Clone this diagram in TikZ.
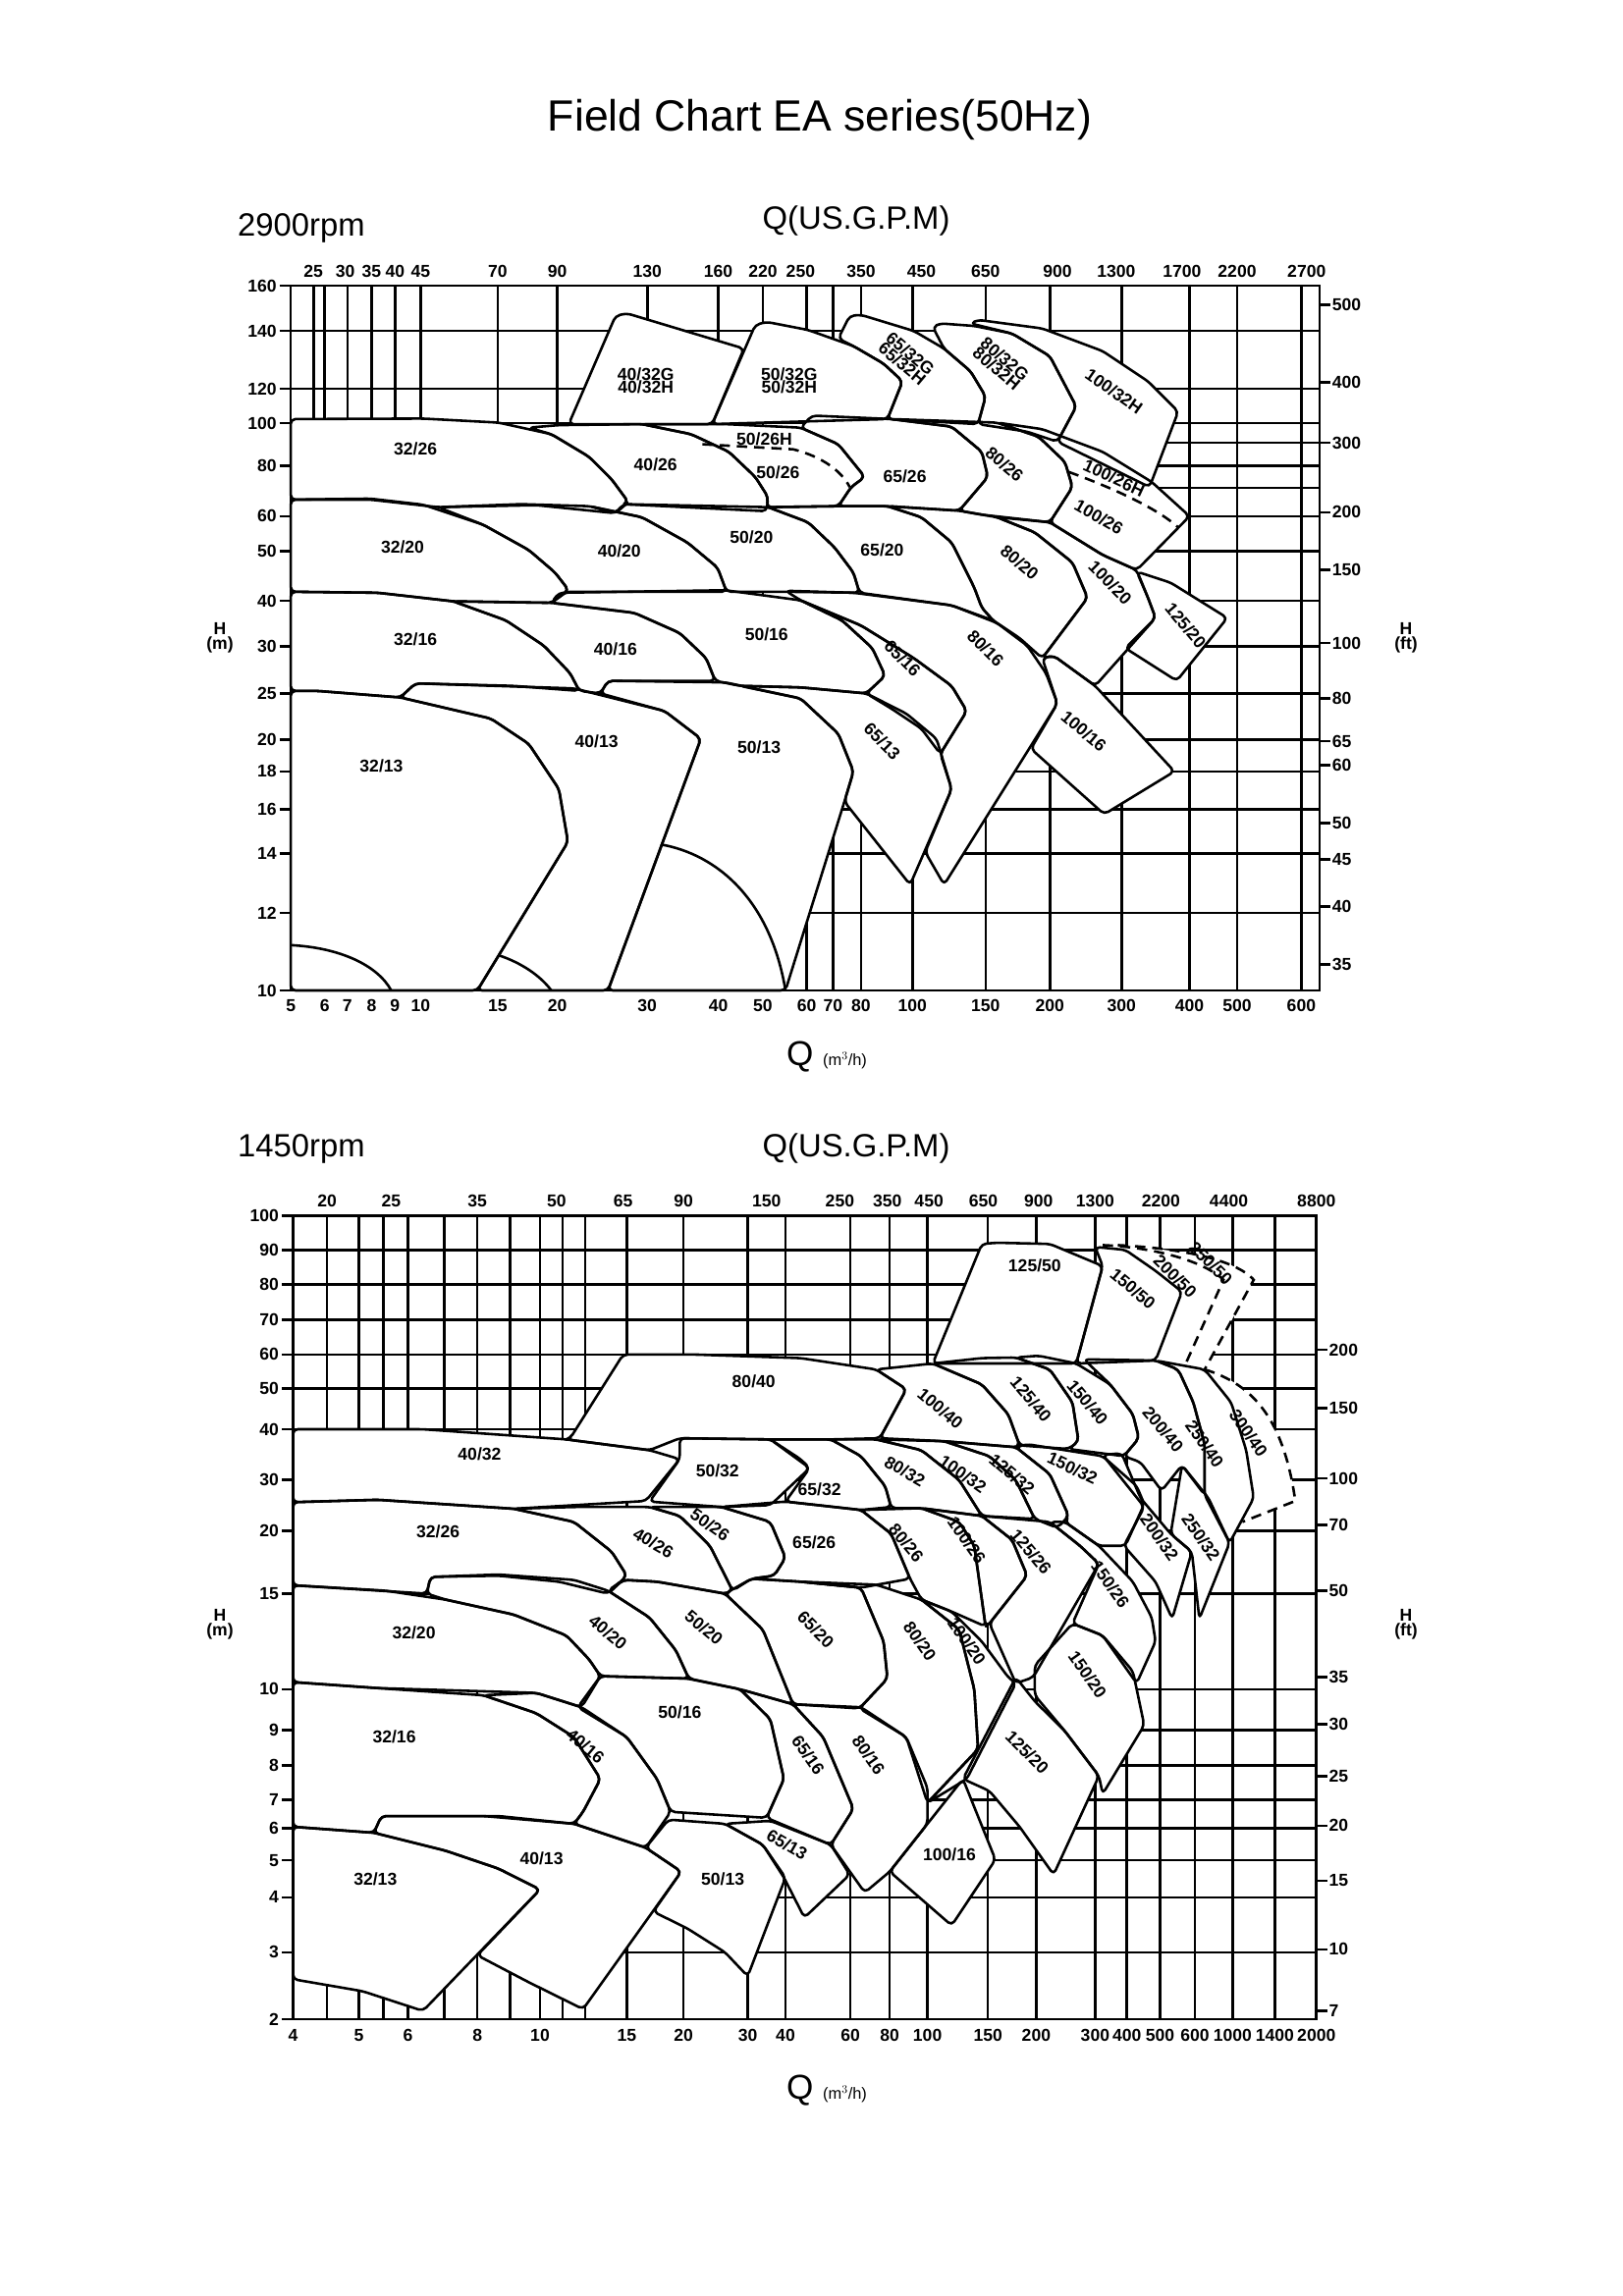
\documentclass[tikz,border=0pt]{standalone}
\usepackage{fontspec}
\setmainfont{Liberation Sans}
\tikzset{
  gridline/.style={line width=2.2pt},
  zone/.style={line width=2.2pt, rounded corners=4pt, line join=round},
  dashzone/.style={line width=2.2pt, dashed, dash pattern=on 9pt off 6pt},
  ticklab/.style={font=\fontsize{15}{16}\selectfont\bfseries, inner sep=1pt},
  zonelab/.style={font=\fontsize{15}{15}\selectfont\bfseries, inner sep=0pt, align=center},
  axislab/.style={font=\fontsize{28}{30}\selectfont}
}
\begin{document}
\begin{tikzpicture}[x=0.3mm,y=-0.3mm]
\useasboundingbox (0,0) rectangle (1653,2339);
\fill[white] (0,0) rectangle (1653,2339);

% headings
\node (title) [font=\fontsize{38}{40}\selectfont] at (835,122) {Field Chart EA series(50Hz)};
\node (rpmA) [axislab, anchor=west] at (238,232) {2900rpm};
\node (usA) [axislab] at (872,225) {Q(US.G.P.M)};
\node (hmA) [ticklab, align=center] at (224,650) {H\\[-3pt](m)};
\node (hfA) [ticklab, align=center] at (1432,650) {H\\[-3pt](ft)};
\node (qA) [font=\fontsize{30}{32}\selectfont] at (842,1077) {Q \fontsize{14}{15}\selectfont(m$^3$/h)};
\node (rpmB) [axislab, anchor=west] at (238,1170) {1450rpm};
\node (usB) [axislab] at (872,1170) {Q(US.G.P.M)};
\node (hmB) [ticklab, align=center] at (224,1655) {H\\[-3pt](m)};
\node (hfB) [ticklab, align=center] at (1432,1655) {H\\[-3pt](ft)};
\node (qB) [font=\fontsize{30}{32}\selectfont] at (842,2130) {Q \fontsize{14}{15}\selectfont(m$^3$/h)};

% ---------------- 2900 rpm ----------------
\begin{scope}[shift={(200,250)},xscale=0.76923,yscale=0.51282]
\foreach \x in {155,170,200,232,263,297,399,478,597,691,750,808,843,880,948,1045,1130,1225,1315,1378,1463}
  \draw[gridline] (\x,80) -- (\x,1480);
\foreach \y in {170,285,353,392,438,482,538,607,706,796,890,982,1045,1120,1208,1326}
  \draw[gridline] (125,\y) -- (1487,\y);
\draw[gridline] (125,80) rectangle (1487,1480);
\foreach \x/\t in {125/5,170/6,200/7,232/8,263/9,297/10,399/15,478/20,597/30,691/40,750/50,808/60,843/70,880/80,948/100,1045/150,1130/200,1225/300,1315/400,1378/500,1463/600}
  \node[ticklab, anchor=north] at (\x,1496) {\t};
\foreach \x/\t in {155/25,197/30,232/35,263/40,297/45,399/70,478/90,597/130,691/160,750/220,800/250,880/350,960/450,1045/650,1140/900,1218/1300,1305/1700,1378/2200,1470/2700}
  \node[ticklab, anchor=south] at (\x,66) {\t};
\foreach \y/\t in {80/160,170/140,285/120,353/100,438/80,538/60,607/50,706/40,796/30,890/25,982/20,1045/18,1120/16,1208/14,1326/12,1480/10}
  {\draw[gridline] (110,\y) -- (125,\y); \node[ticklab, anchor=east] at (108,\y) {\t};}
\foreach \y/\t in {118/500,272/400,392/300,530/200,645/150,790/100,900/80,985/65,1033/60,1148/50,1220/45,1313/40,1428/35}
  {\draw[gridline] (1487,\y) -- (1502,\y); \node[ticklab, anchor=west] at (1502,\y) {\t};}
\def\zonesA{
 {(493,355)--(555,140)--(570,135)--(725,205)--(683,355)--cycle},
 {(683,355)--(740,158)--(755,152)--(810,168)--(870,200)--(910,235)--(935,270)--(915,345)--cycle},
 {(915,345)--(935,270)--(910,235)--(870,200)--(850,185)--(865,140)--(880,138)--(950,170)--(990,205)--(1025,250)--(1045,300)--(1035,355)--cycle},
 {(1035,355)--(1045,300)--(1025,250)--(990,205)--(975,162)--(985,155)--(1030,160)--(1080,175)--(1130,220)--(1165,320)--(1140,390)--(1100,370)--cycle},
 {(1140,390)--(1165,320)--(1130,220)--(1080,175)--(1025,155)--(1035,148)--(1120,165)--(1200,210)--(1260,270)--(1300,330)--(1262,480)--cycle},
 {(125,345)--(300,344)--(400,352)--(470,375)--(520,420)--(550,465)--(572,510)--(555,532)--(450,516)--(320,520)--(230,505)--(125,505)--cycle},
 {(440,362)--(480,357)--(590,355)--(655,375)--(705,410)--(740,460)--(757,500)--(755,528)--(565,514)--(572,510)--(550,465)--(520,420)--(470,375)--cycle},
 {(590,355)--(700,355)--(800,362)--(850,395)--(885,460)--(867,480)--(850,518)--(755,520)--(757,500)--(740,460)--(705,410)--(655,375)--cycle},
 {(800,362)--(815,338)--(920,345)--(1000,360)--(1040,410)--(1048,460)--(1010,527)--(915,518)--(850,518)--(867,480)--(885,460)--(850,395)--cycle},
 {(1000,360)--(920,345)--(1060,352)--(1115,380)--(1150,430)--(1160,480)--(1130,550)--(1040,535)--(1010,527)--(1048,460)--(1040,410)--cycle},
 {(1115,380)--(1060,352)--(1120,365)--(1200,410)--(1265,470)--(1315,538)--(1245,645)--(1200,615)--(1130,550)--(1160,480)--(1150,430)--cycle},
 {(125,505)--(230,503)--(300,515)--(380,555)--(440,605)--(475,650)--(493,685)--(470,710)--(340,707)--(240,690)--(125,688)--cycle},
 {(320,520)--(430,514)--(520,518)--(590,540)--(650,590)--(690,640)--(702,688)--(490,688)--(470,710)--(493,685)--(475,650)--(440,605)--(380,555)--cycle},
 {(555,532)--(565,514)--(757,520)--(810,550)--(845,600)--(870,650)--(878,690)--(780,688)--(702,688)--(690,640)--(650,590)--(590,540)--(520,518)--cycle},
 {(757,520)--(850,518)--(915,518)--(960,540)--(1000,590)--(1030,680)--(1040,720)--(1055,745)--(1000,715)--(878,690)--(870,650)--(845,600)--(810,550)--cycle},
 {(915,518)--(1010,527)--(1060,540)--(1110,570)--(1160,630)--(1180,700)--(1120,820)--(1090,780)--(1055,745)--(1040,720)--(1030,680)--(1000,590)--(960,540)--cycle},
 {(1060,540)--(1130,550)--(1200,615)--(1245,645)--(1260,700)--(1270,740)--(1190,875)--(1135,815)--(1120,820)--(1180,700)--(1160,630)--(1110,570)--cycle},
 {(1245,648)--(1290,670)--(1365,740)--(1298,865)--(1230,800)--(1270,740)--(1260,700)--cycle},
 {(125,688)--(240,690)--(340,707)--(410,745)--(460,795)--(495,850)--(507,885)--(420,875)--(290,870)--(270,898)--(160,885)--(125,885)--cycle},
 {(340,707)--(470,710)--(580,730)--(640,770)--(675,820)--(687,865)--(545,865)--(535,890)--(507,885)--(495,850)--(460,795)--(410,745)--cycle},
 {(470,710)--(480,690)--(700,685)--(800,705)--(855,745)--(895,800)--(912,855)--(887,890)--(800,878)--(720,875)--(687,865)--(675,820)--(640,770)--(580,730)--cycle},
 {(780,686)--(870,690)--(1000,715)--(1060,750)--(1100,795)--(1125,850)--(1140,910)--(990,1270)--(965,1205)--(1000,1080)--(985,1010)--(1020,925)--(1000,875)--(950,820)--(880,755)--(800,705)--cycle},
 {(800,705)--(880,755)--(950,820)--(1000,875)--(1020,925)--(985,1010)--(960,960)--(920,920)--(887,890)--(912,855)--(895,800)--(855,745)--cycle},
 {(720,875)--(800,878)--(887,890)--(940,930)--(980,980)--(1000,1080)--(945,1270)--(858,1105)--(870,1045)--(850,970)--(800,900)--cycle},
 {(535,890)--(545,865)--(700,868)--(800,900)--(850,970)--(870,1045)--(858,1105)--(780,1480)--(545,1480)--(668,980)--(620,925)--cycle},
 {(270,898)--(290,870)--(500,880)--(620,925)--(668,980)--(545,1480)--(372,1480)--(492,1185)--(480,1080)--(440,990)--(390,940)--cycle},
 {(125,885)--(160,885)--(270,898)--(390,940)--(440,990)--(480,1080)--(492,1185)--(372,1480)--(125,1480)--cycle},
 {(1120,820)--(1135,815)--(1190,875)--(1295,1045)--(1202,1130)--(1105,1000)--(1140,910)--cycle}}
\foreach \p in \zonesA \fill[white, zone] \p;
\foreach \p in \zonesA \draw[zone] \p;
\draw[zone] (125,1390) .. controls (190,1395) and (240,1430) .. (258,1480);
\draw[zone] (400,1410) .. controls (430,1425) and (455,1450) .. (470,1480);
\draw[zone] (615,1190) .. controls (690,1210) and (760,1300) .. (780,1480);
\draw[dashzone] (670,395) -- (790,405) .. controls (830,420) and (855,450) .. (865,480);
\draw[dashzone] (1155,450) .. controls (1210,480) and (1270,520) .. (1300,560);
\foreach \x/\y/\r/\t in {595/268/0/{40/32G\\[-4pt]40/32H},785/268/0/{50/32G\\[-4pt]50/32H},940/225/-40/{65/32G\\[-4pt]65/32H},1065/235/-40/{80/32G\\[-4pt]80/32H},1215/290/-35/{100/32H},752/385/0/{50/26H},290/405/0/{32/26},608/435/0/{40/26},770/452/0/{50/26},938/458/0/{65/26},1070/435/-40/{80/26},1215/462/-25/{100/26H},1195/540/-30/{100/26},273/600/0/{32/20},560/608/0/{40/20},735/580/0/{50/20},908/605/0/{65/20},1090/630/-40/{80/20},1210/670/-45/{100/20},1310/755/-50/{125/20},290/782/0/{32/16},555/803/0/{40/16},755/772/0/{50/16},935/820/-45/{65/16},1045/800/-45/{80/16},245/1035/0/{32/13},530/985/0/{40/13},745/998/0/{50/13},908/985/-45/{65/13},1175/965/-40/{100/16}}
  \node[zonelab, rotate=\r] at (\x,\y) {\t};
\end{scope}

% ---------------- 1450 rpm ----------------
\begin{scope}[shift={(200,1185)},xscale=0.76923,yscale=0.609]
\foreach \x in {173,215,248,280,328,372,415,455,485,515,570,645,730,780,866,918,968,1048,1112,1190,1232,1276,1322,1372,1428}
  \draw[gridline] (\x,88) -- (\x,1432);
\foreach \y in {145,203,262,320,377,445,530,615,720,880,948,1007,1065,1112,1166,1228,1320}
  \draw[gridline] (128,\y) -- (1483,\y);
\draw[gridline] (128,88) rectangle (1483,1432);
\foreach \x/\t in {128/4,215/5,280/6,372/8,455/10,570/15,645/20,730/30,780/40,866/60,918/80,968/100,1048/150,1112/200,1190/300,1232/400,1276/500,1322/600,1372/1000,1428/1400,1483/2000}
  \node[ticklab, anchor=north] at (\x,1446) {\t};
\foreach \x/\t in {173/20,258/25,372/35,477/50,565/65,645/90,755/150,852/250,915/350,970/450,1042/650,1115/900,1190/1300,1277/2200,1367/4400,1483/8800}
  \node[ticklab, anchor=south] at (\x,75) {\t};
\foreach \y/\t in {88/100,145/90,203/80,262/70,320/60,377/50,445/40,530/30,615/20,720/15,880/10,948/9,1007/8,1065/7,1112/6,1166/5,1228/4,1320/3,1432/2}
  {\draw[gridline] (113,\y) -- (128,\y); \node[ticklab, anchor=east] at (111,\y) {\t};}
\foreach \y/\t in {312/200,410/150,527/100,605/70,715/50,860/35,938/30,1025/25,1108/20,1200/15,1315/10,1418/7}
  {\draw[gridline] (1483,\y) -- (1498,\y); \node[ticklab, anchor=west] at (1498,\y) {\t};}
\def\zonesB{
 {(975,335)--(1040,135)--(1060,133)--(1130,135)--(1200,172)--(1165,335)--cycle},
 {(1165,335)--(1200,172)--(1190,140)--(1230,145)--(1270,180)--(1305,215)--(1270,330)--cycle},
 {(495,460)--(565,320)--(660,320)--(800,326)--(900,345)--(940,378)--(905,460)--(840,462)--(760,462)--(640,460)--(600,480)--(490,462)--cycle},
 {(900,345)--(975,335)--(1040,370)--(1075,420)--(1090,472)--(1085,475)--(990,465)--(905,460)--(940,378)--cycle},
 {(975,335)--(1040,326)--(1085,325)--(1130,345)--(1160,400)--(1168,465)--(1155,478)--(1090,472)--(1075,420)--(1040,370)--cycle},
 {(1085,325)--(1115,322)--(1165,335)--(1210,370)--(1240,420)--(1248,460)--(1228,490)--(1155,478)--(1168,465)--(1160,400)--(1130,345)--cycle},
 {(1175,328)--(1270,330)--(1300,345)--(1320,400)--(1335,470)--(1335,555)--(1305,505)--(1278,548)--(1250,500)--(1228,490)--(1248,460)--(1240,420)--(1210,370)--cycle},
 {(1270,330)--(1335,345)--(1370,400)--(1390,480)--(1400,560)--(1368,635)--(1335,555)--(1335,470)--(1320,400)--(1300,345)--cycle},
 {(128,445)--(300,445)--(490,462)--(600,480)--(640,495)--(595,565)--(420,578)--(240,563)--(128,567)--cycle},
 {(640,480)--(640,460)--(760,462)--(800,495)--(812,510)--(760,572)--(695,575)--(600,566)--(640,495)--cycle},
 {(760,462)--(840,462)--(880,490)--(912,540)--(920,575)--(880,580)--(780,566)--(812,510)--cycle},
 {(840,462)--(900,462)--(960,480)--(1010,530)--(1040,590)--(960,577)--(920,577)--(912,540)--(880,490)--cycle},
 {(900,462)--(990,465)--(1050,490)--(1085,530)--(1110,595)--(1040,590)--(1010,530)--(960,480)--cycle},
 {(990,465)--(1085,475)--(1130,520)--(1155,590)--(1140,610)--(1110,595)--(1085,530)--(1050,490)--cycle},
 {(1085,475)--(1100,470)--(1200,490)--(1245,540)--(1255,570)--(1230,640)--(1195,640)--(1150,600)--(1155,590)--(1130,520)--cycle},
 {(1200,488)--(1225,485)--(1250,560)--(1290,620)--(1318,650)--(1292,762)--(1270,700)--(1228,640)--(1255,575)--cycle},
 {(1305,505)--(1340,560)--(1368,635)--(1328,762)--(1318,650)--(1290,620)--cycle},
 {(128,567)--(240,563)--(420,578)--(500,600)--(550,650)--(570,690)--(545,720)--(480,700)--(400,690)--(310,692)--(305,720)--(128,706)--cycle},
 {(420,578)--(500,575)--(600,575)--(640,590)--(680,640)--(710,715)--(700,720)--(610,700)--(565,697)--(545,720)--(570,690)--(550,650)--(500,600)--cycle},
 {(600,575)--(695,575)--(760,600)--(780,660)--(765,690)--(735,695)--(710,715)--(680,640)--(640,590)--cycle},
 {(695,575)--(780,566)--(880,580)--(920,620)--(945,695)--(880,710)--(800,700)--(735,695)--(765,690)--(780,660)--(760,600)--cycle},
 {(880,580)--(960,577)--(1010,600)--(1030,640)--(1045,775)--(1000,750)--(960,730)--(945,695)--(920,620)--cycle},
 {(960,577)--(1040,590)--(1080,630)--(1100,690)--(1050,770)--(1045,775)--(1030,640)--(1010,600)--cycle},
 {(1040,590)--(1130,600)--(1170,640)--(1195,670)--(1108,860)--(1085,870)--(1050,770)--(1100,690)--(1080,630)--cycle},
 {(1130,600)--(1150,600)--(1195,640)--(1240,700)--(1265,760)--(1270,800)--(1245,870)--(1200,790)--(1160,770)--(1195,670)--(1170,640)--cycle},
 {(128,706)--(250,715)--(330,730)--(420,755)--(490,790)--(520,830)--(535,858)--(510,910)--(450,886)--(240,878)--(128,868)--cycle},
 {(305,720)--(310,692)--(400,688)--(500,697)--(545,715)--(600,760)--(635,815)--(652,862)--(535,858)--(520,830)--(490,790)--(420,755)--(330,730)--cycle},
 {(545,715)--(565,697)--(610,700)--(700,720)--(750,780)--(790,905)--(720,880)--(652,862)--(635,815)--(600,760)--cycle},
 {(700,720)--(735,695)--(800,700)--(880,710)--(910,800)--(915,862)--(878,912)--(790,905)--(750,780)--cycle},
 {(800,700)--(900,705)--(960,730)--(1010,780)--(1030,880)--(1035,980)--(968,1070)--(940,960)--(878,912)--(915,862)--(910,800)--(880,710)--cycle},
 {(960,730)--(1000,750)--(1040,800)--(1075,860)--(1085,870)--(1020,1030)--(968,1070)--(1035,980)--(1030,880)--(1010,780)--cycle},
 {(1110,840)--(1160,770)--(1200,790)--(1240,850)--(1255,940)--(1200,1055)--(1195,1025)--(1150,950)--(1110,890)--cycle},
 {(1015,1030)--(1085,860)--(1110,900)--(1150,950)--(1195,1025)--(1135,1190)--(1090,1110)--(1050,1050)--cycle},
 {(128,868)--(240,878)--(380,890)--(450,920)--(500,960)--(535,1030)--(512,1085)--(500,1105)--(380,1092)--(245,1092)--(235,1120)--(128,1110)--cycle},
 {(380,890)--(450,886)--(510,910)--(570,960)--(610,1030)--(628,1085)--(595,1145)--(500,1105)--(512,1085)--(535,1030)--(500,960)--(450,920)--cycle},
 {(505,910)--(535,858)--(650,862)--(720,880)--(760,930)--(778,1030)--(755,1095)--(628,1085)--(610,1030)--(570,960)--cycle},
 {(720,880)--(790,905)--(830,960)--(870,1080)--(840,1140)--(755,1095)--(778,1030)--(760,930)--cycle},
 {(790,905)--(880,910)--(940,960)--(968,1045)--(968,1105)--(918,1185)--(885,1220)--(840,1140)--(870,1080)--(830,960)--cycle},
 {(918,1185)--(968,1105)--(1015,1030)--(1058,1165)--(1000,1275)--cycle},
 {(128,1110)--(235,1120)--(330,1150)--(400,1180)--(455,1215)--(300,1418)--(220,1385)--(128,1365)--cycle},
 {(235,1120)--(245,1092)--(400,1092)--(500,1105)--(595,1145)--(642,1185)--(512,1415)--(440,1370)--(372,1325)--(455,1215)--(400,1180)--(330,1150)--cycle},
 {(595,1145)--(625,1098)--(700,1105)--(750,1140)--(780,1195)--(730,1360)--(700,1320)--(650,1280)--(605,1252)--(642,1185)--cycle},
 {(700,1105)--(760,1100)--(840,1140)--(865,1190)--(805,1262)--(778,1195)--(750,1140)--cycle}}
% white ground under the dashed outlines
\fill[white] (1200,137) .. controls (1300,142) and (1375,160) .. (1400,195) -- (1335,345) -- (1270,330) -- (1305,215) -- cycle;
\fill[white] (1335,345) .. controls (1400,370) and (1440,430) .. (1455,565) -- (1385,600) -- (1400,560) -- (1370,400) -- cycle;
\foreach \p in \zonesB \fill[white, zone] \p;
\foreach \p in \zonesB \draw[zone] \p;
\draw[dashzone] (1200,137) .. controls (1260,140) and (1330,160) .. (1360,195) -- (1310,335);
\draw[dashzone] (1220,137) .. controls (1300,142) and (1375,160) .. (1400,195) -- (1335,345);
\draw[dashzone] (1335,345) .. controls (1400,370) and (1440,430) .. (1455,565) -- (1385,600);
\foreach \x/\y/\r/\t in {1110/172/0/{125/50},1240/210/-40/{150/50},1296/189/-45/{200/50},1343/167/-45/{250/50},738/365/0/{80/40},985/410/-40/{100/40},1105/395/-50/{125/40},1180/400/-50/{150/40},1280/445/-50/{200/40},1335/470/-55/{250/40},1393/452/-55/{300/40},375/487/0/{40/32},690/515/0/{50/32},825/545/0/{65/32},938/515/-30/{80/32},1015/520/-35/{100/32},1080/520/-40/{125/32},1160/510/-25/{150/32},1275/625/-55/{200/32},1330/625/-55/{250/32},320/617/0/{32/26},605/635/-30/{40/26},680/605/-35/{50/26},818/635/0/{65/26},940/635/-50/{80/26},1020/630/-55/{100/26},1105/650/-50/{125/26},1210/705/-55/{150/26},288/785/0/{32/20},545/785/-40/{40/20},672/777/-40/{50/20},820/780/-45/{65/20},958/800/-55/{80/20},1020/800/-55/{100/20},1180/855/-55/{150/20},262/960/0/{32/16},515/975/-40/{40/16},640/918/0/{50/16},810/990/-55/{65/16},890/990/-55/{80/16},1100/985/-45/{125/20},237/1198/0/{32/13},457/1163/0/{40/13},697/1197/0/{50/13},782/1140/-30/{65/13},997/1157/0/{100/16}}
  \node[zonelab, rotate=\r] at (\x,\y) {\t};
\end{scope}
\end{tikzpicture}
\end{document}
